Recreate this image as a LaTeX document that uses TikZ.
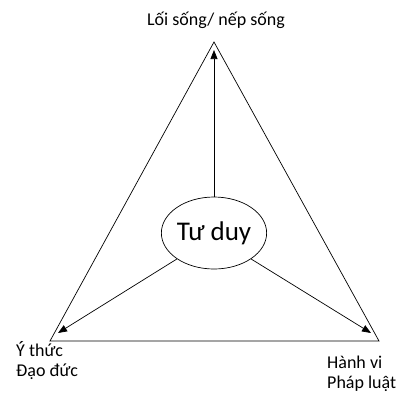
\documentclass[tikz,border=0pt]{standalone}
\usepackage{fontspec}
\setmainfont{Carlito}
\usepackage{tikz}
\usetikzlibrary{shapes.geometric, arrows.meta, positioning}

\begin{document}
\begin{tikzpicture}[x=1pt, y=-1pt,
    label/.style={font=\fontsize{18}{20}\selectfont, align=left, inner sep=0pt},
    center/.style={draw, line width=0.7pt, ellipse, minimum width=96pt, minimum height=72pt,
                   font=\fontsize{27}{30}\selectfont, inner sep=0pt},
    arrow/.style={-{Triangle[length=9pt, width=7pt]}, line width=0.7pt}
]
    \useasboundingbox (0,0) rectangle (404,392);

    % Triangle corners
    \coordinate (top) at (214,42);
    \coordinate (left) at (50,341);
    \coordinate (right) at (379,341);
    \draw[line width=0.7pt] (top) -- (left) -- (right) -- cycle;

    % Centre
    \node[center] (think) at (214,233) {Tư duy};

    % Arrow ends
    \coordinate (topend) at (214,50);
    \coordinate (leftend) at (58,333);
    \coordinate (rightend) at (371,333);
    \draw[arrow] (think.north) -- (topend);
    \draw[arrow] (think.-145) -- (leftend);
    \draw[arrow] (think.-35) -- (rightend);

    % Labels
    \node[label] (lifestyle) at (216,20) {Lối sống/ nếp sống};
    \node[label, anchor=base west] (ethics) at (16,376) {Ý thức\\Đạo đức};
    \node[label, anchor=base west] (law) at (327,388) {Hành vi\\Pháp luật};
\end{tikzpicture}
\end{document}
